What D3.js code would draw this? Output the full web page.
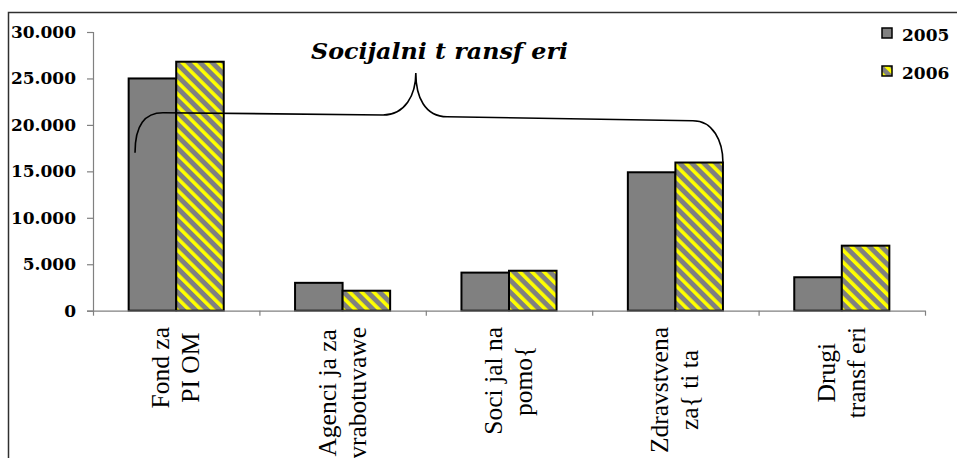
<!DOCTYPE html>
<html>
<head>
<meta charset="utf-8">
<script src="https://cdn.jsdelivr.net/npm/d3@7"></script>
<style>
  html, body { margin: 0; padding: 0; background: #fff; overflow: hidden; }
  svg { display: block; }
</style>
</head>
<body>
<svg id="chart" width="957" height="458"></svg>
<script>
// ---- data ----
const categories = ["Fond za PI OM", "Agencija za vrabotuvawe", "Socijalna pomo{", "Zdravstvena za{tita", "Drugi transferi"];
const categoryLines = [
  ["Fond za", "PI OM"],
  ["Agenci ja za", "vrabotuvawe"],
  ["Soci jal na", "pomo{"],
  ["Zdravstvena", "za{ ti ta"],
  ["Drugi", "transf eri"]
];
const seriesNames = ["2005", "2006"];
const values2005 = [25000, 3000, 4100, 14900, 3600];
const values2006 = [26800, 2150, 4300, 15950, 7000];
const yTickValues = [0, 5000, 10000, 15000, 20000, 25000, 30000];
const yTickLabels = ["0", "5.000", "10.000", "15.000", "20.000", "25.000", "30.000"];
const titleText = "Socijalni t ransf eri";
// brace annotation: [fraction of plot width, value]
const bracePoints = {
  start: [0.0505, 17000],
  leftTop: [0.0841, 21310],
  leftInner: [0.3486, 21070],
  tip: [0.388, 25600],
  rightInner: [0.4255, 20880],
  rightTop: [0.721, 20450]
};

// ---- layout ----
const svg = d3.select("#chart");
const plot = { left: 93, right: 925, top: 32, bottom: 310.7 };
const GRAY = "#808080", YELLOW = "#FFFF00";

svg.append("rect").attr("width", 957).attr("height", 458).attr("fill", "#fff");
// outer frame
svg.append("rect").attr("x", 8.5).attr("y", 12.5).attr("width", 1200).attr("height", 800)
  .attr("fill", "none").attr("stroke", "#303030").attr("stroke-width", 1.5);

// pattern
const defs = svg.append("defs");
const pat = defs.append("pattern").attr("id", "hatch").attr("patternUnits", "userSpaceOnUse")
  .attr("width", 8.5).attr("height", 8.5).attr("patternTransform", "rotate(-45)");
pat.append("rect").attr("width", 8.5).attr("height", 8.5).attr("fill", GRAY);
pat.append("rect").attr("x", 0).attr("width", 3.6).attr("height", 8.5).attr("fill", YELLOW);

const y = d3.scaleLinear().domain([0, 30000]).range([plot.bottom, plot.top]);
const x = d3.scaleBand().domain(categories).range([plot.left, plot.right]).paddingInner(0).paddingOuter(0);
const xi = d3.scaleBand().domain(seriesNames).range([0, x.bandwidth()]).paddingInner(0).paddingOuter(0.75);
const xEdges = d3.scaleLinear().domain([0, categories.length]).range([plot.left, plot.right]);
const fx = d3.scaleLinear().domain([0, 1]).range([plot.left, plot.right]);

// y axis
const yAxis = svg.append("g").attr("transform", `translate(${plot.left},0)`)
  .call(d3.axisLeft(y).tickValues(yTickValues).tickFormat((d, i) => yTickLabels[i]).tickSize(6).tickPadding(11));
yAxis.select(".domain").attr("stroke", GRAY).attr("stroke-width", 1.2);
yAxis.selectAll(".tick line").attr("stroke", GRAY).attr("stroke-width", 1.2);
yAxis.selectAll(".tick text").attr("font-family", "DejaVu Serif").attr("font-weight", "bold")
  .attr("font-size", 17).attr("fill", "#000");

// bars
const data = categories.map((c, i) => ({ c, vals: [values2005[i], values2006[i]] }));
const groups = svg.append("g").selectAll("g").data(data).join("g")
  .attr("transform", d => `translate(${x(d.c)},0)`);
groups.selectAll("rect").data(d => d.vals.map((v, j) => ({ v, s: seriesNames[j] }))).join("rect")
  .attr("x", d => xi(d.s))
  .attr("y", d => y(d.v))
  .attr("width", xi.bandwidth())
  .attr("height", d => y(0) - y(d.v))
  .attr("fill", d => d.s === "2005" ? GRAY : "url(#hatch)")
  .attr("stroke", "#000").attr("stroke-width", 2);

// x axis
const xAxis = svg.append("g").attr("transform", `translate(0,${plot.bottom})`)
  .call(d3.axisBottom(xEdges).tickValues(d3.range(0, categories.length + 1)).tickFormat("").tickSize(5).tickSizeOuter(0));
xAxis.select(".domain").attr("stroke", GRAY).attr("stroke-width", 1.2);
xAxis.selectAll(".tick line").attr("stroke", GRAY).attr("stroke-width", 1.2);

// x labels (rotated, two lines)
const labelTop = 327;
categories.forEach((c, i) => {
  const cx = x(c) + x.bandwidth() / 2;
  const g = svg.append("g");
  const texts = categoryLines[i].map((line, k) =>
    g.append("text").text(line)
      .attr("font-family", "Liberation Serif").attr("font-size", 25.5).attr("fill", "#000")
      .attr("text-anchor", "middle"));
  const maxLen = d3.max(texts, t => t.node().getComputedTextLength());
  const cy = labelTop + maxLen / 2;
  texts.forEach((t, k) => {
    const bx = cx - 7 + k * 30;
    t.attr("transform", `translate(${bx},${cy}) rotate(-90)`);
  });
});

// legend
const legend = svg.append("g");
seriesNames.forEach((s, i) => {
  const ly = 28 + i * 38;
  legend.append("rect").attr("x", 882).attr("y", ly).attr("width", 10).attr("height", 10)
    .attr("fill", i === 0 ? GRAY : "url(#hatch)").attr("stroke", "#000").attr("stroke-width", 1.5);
  legend.append("text").attr("x", 902).attr("y", ly + 12.5).text(s)
    .attr("font-family", "DejaVu Serif").attr("font-weight", "bold").attr("font-size", 17).attr("fill", "#000");
});

// brace annotation
const P = k => [fx(bracePoints[k][0]), y(bracePoints[k][1])];
const endIdx = 3;
const endX = x(categories[endIdx]) + xi("2006") + xi.bandwidth();
const endY = y(values2006[endIdx]);
const s = P("start"), lt = P("leftTop"), li = P("leftInner"), tp = P("tip"), ri = P("rightInner"), rt = P("rightTop");
const path = d3.path();
path.moveTo(s[0], s[1]);
path.bezierCurveTo(s[0], s[1] - 28, s[0] + 10, lt[1], lt[0], lt[1]);
path.lineTo(li[0], li[1]);
path.bezierCurveTo(li[0] + 22, li[1], tp[0], li[1] - 20, tp[0], tp[1]);
path.bezierCurveTo(tp[0], ri[1] - 20, tp[0] + 9, ri[1], ri[0], ri[1]);
path.lineTo(rt[0], rt[1]);
path.bezierCurveTo(rt[0] + 20, rt[1], endX, rt[1] + 20, endX, endY);
svg.append("path").attr("d", path.toString()).attr("fill", "none").attr("stroke", "#000").attr("stroke-width", 1.6);

// title
svg.append("text").attr("x", 311).attr("y", 59).text(titleText)
  .attr("font-family", "DejaVu Serif").attr("font-weight", "bold").attr("font-style", "italic")
  .attr("font-size", 23).attr("textLength", 257).attr("lengthAdjust", "spacingAndGlyphs").attr("fill", "#000");
</script>
</body>
</html>
